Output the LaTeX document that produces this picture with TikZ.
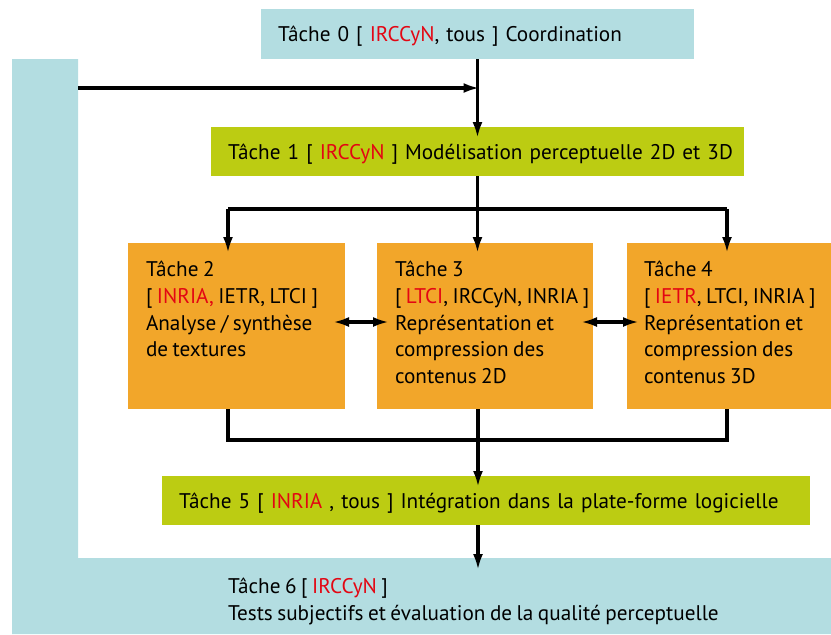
\documentclass[tikz,border=0pt]{standalone}
\usepackage{fontspec}
\setmainfont{PT Sans}[WordSpace=0.8]
\usetikzlibrary{arrows.meta,positioning}

\definecolor{bleuclair}{RGB}{179,221,225}
\definecolor{vertanis}{RGB}{188,204,18}
\definecolor{orangetache}{RGB}{242,166,42}
\definecolor{rougelabo}{RGB}{227,6,19}
\newcommand{\labo}[1]{\textcolor{rougelabo}{#1}}

\tikzset{
  tache/.style={anchor=north west, inner sep=0pt, outer sep=0pt,
    font=\fontsize{10.6}{13.4}\selectfont},
  bandeau/.style={tache, align=left, inner xsep=8.5pt, minimum height=24.5pt, text depth=0pt},
  bloc/.style={tache, fill=orangetache},
  texte/.style={tache, align=left},
  fleche/.style={-{Latex[length=8pt,width=5pt]}, line width=1.6pt},
  fleches/.style={{Latex[length=8pt,width=5pt]}-{Latex[length=8pt,width=5pt]}, line width=1.6pt},
  lien/.style={line width=1.6pt},
}

\begin{document}
\begin{tikzpicture}[x=0.5pt, y=-0.5pt]
  \useasboundingbox (0,0) rectangle (831,634);

  % fond de la tache 6
  \fill[bleuclair] (12,59) -- (78,59) -- (78,558) -- (831,558) -- (831,634) -- (12,634) -- cycle;

  \node[bandeau, fill=bleuclair, text width=199.5pt, minimum height=25pt] (t0) at (261,9)
    {\mbox{Tâche 0 [ \labo{IRCCyN}, tous ] Coordination}};
  \node[bandeau, fill=vertanis, text width=249.5pt] (t1) at (211,127)
    {\mbox{Tâche 1 [ \labo{IRCCyN} ] Modélisation perceptuelle 2D et 3D}};

  \node[bloc, minimum width=108.5pt, minimum height=83pt] (t2) at (128,243) {};
  \node[bloc, minimum width=108pt, minimum height=83pt] (t3) at (377,243) {};
  \node[bloc, minimum width=102pt, minimum height=83pt] (t4) at (627,243) {};
  \node[texte] (t2txt) at (146,261)
    {Tâche 2\\ {[} \labo{INRIA,} IETR, LTCI ]\\ Analyse / synthèse\\ de textures};
  \node[texte] (t3txt) at (395,261)
    {Tâche 3\\ {[} \labo{LTCI}, IRCCyN, INRIA ]\\ Représentation et\\ compression des\\ contenus 2D};
  \node[texte] (t4txt) at (644,261)
    {Tâche 4\\ {[} \labo{IETR}, LTCI, INRIA ]\\ Représentation et\\ compression des\\ contenus 3D};

  \node[bandeau, fill=vertanis, text width=307pt] (t5) at (162,476)
    {\mbox{Tâche 5 [ \labo{INRIA} , tous ] Intégration dans la plate-forme logicielle}};
  \node[texte] (t6) at (228,578)
    {Tâche 6 [ \labo{IRCCyN} ]\\ Tests subjectifs et évaluation de la qualité perceptuelle};

  % liaisons
  \coordinate (retour) at (78,88);
  \coordinate (g) at (228,209);
  \coordinate (d) at (727,209);
  \coordinate (bas) at (478,440);
  \coordinate (t6haut) at (478,558);

  \draw[fleche, shorten >=-1pt] (retour) -- (retour -| t0.south);
  \draw[fleche, shorten >=-5.5pt] (t0.south) -- (t1.north);
  \draw[fleche, shorten >=-5pt] (t1.south) -- (t1.south |- t3.north);
  \draw[lien] (g) -- (d);
  \draw[fleche, shorten >=-5pt] (g) -- (g |- t2.north);
  \draw[fleche, shorten >=-5pt] (d) -- (d |- t4.north);
  \draw[fleches, shorten <=-6pt, shorten >=-6pt]
    ([yshift=2pt]t2.east) -- ([yshift=2pt]t3.west);
  \draw[fleches, shorten <=-6pt, shorten >=-6pt]
    ([yshift=2pt]t3.east) -- ([yshift=2pt]t4.west);
  \draw[lien] (g |- t2.south) -- (g |- bas) -- (d |- bas) -- (d |- t4.south);
  \draw[lien] (bas |- t3.south) -- (bas);
  \draw[fleche, shorten >=-5.5pt] (bas) -- (bas |- t5.north);
  \draw[fleche, shorten >=-6pt] (bas |- t5.south) -- (t6haut);
\end{tikzpicture}
\end{document}
